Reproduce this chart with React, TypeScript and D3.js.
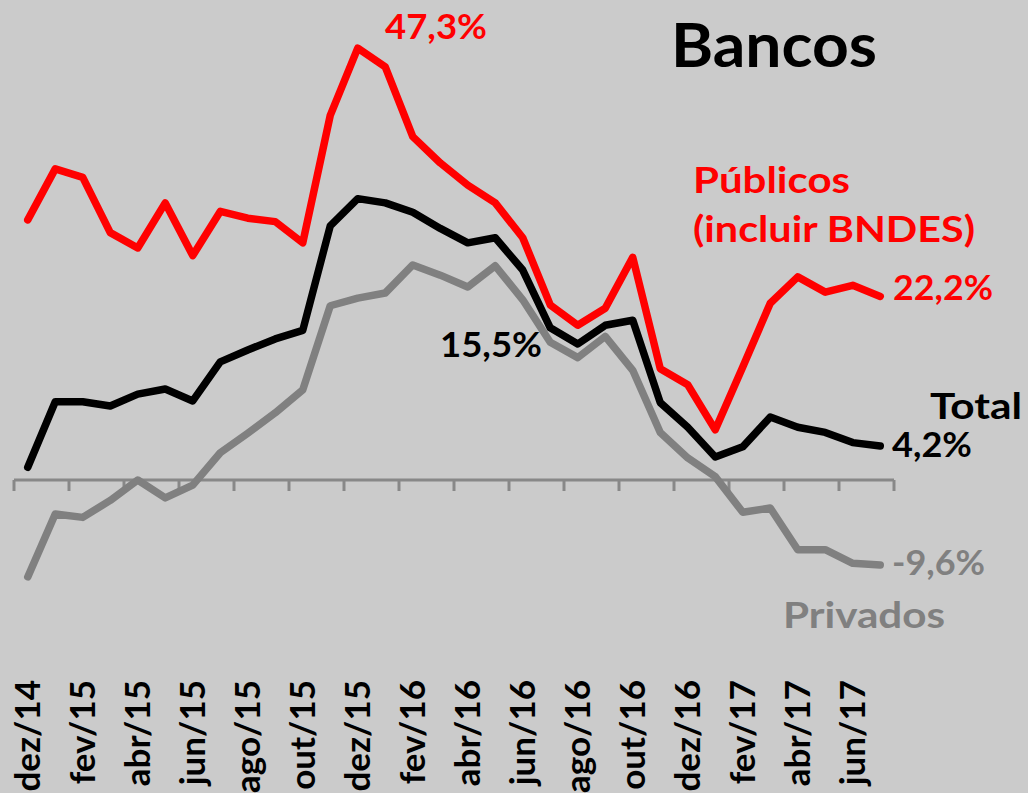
import React from "react";
import * as d3 from "d3";

// Months (dez/14 .. jul/17)
const months = [
  "dez/14", "jan/15", "fev/15", "mar/15", "abr/15", "mai/15", "jun/15", "jul/15",
  "ago/15", "set/15", "out/15", "nov/15", "dez/15", "jan/16", "fev/16", "mar/16",
  "abr/16", "mai/16", "jun/16", "jul/16", "ago/16", "set/16", "out/16", "nov/16",
  "dez/16", "jan/17", "fev/17", "mar/17", "abr/17", "mai/17", "jun/17", "jul/17",
];

// Tick labels shown (every other month)
const tickLabels = [
  "dez/14", "fev/15", "abr/15", "jun/15", "ago/15", "out/15", "dez/15", "fev/16",
  "abr/16", "jun/16", "ago/16", "out/16", "dez/16", "fev/17", "abr/17", "jun/17",
];

// Públicos (incl. BNDES)
const publicos = [
  30.6, 36.6, 35.6, 29.1, 27.3, 32.6, 26.4, 31.6, 30.8, 30.4, 27.9, 42.9,
  50.8, 48.6, 40.4, 37.3, 34.7, 32.6, 28.5, 20.6, 18.2, 20.2, 26.2, 13.1,
  11.2, 5.9, 13.3, 20.8, 23.9, 22.1, 22.9, 21.6,
];

// Total
const total = [
  1.5, 9.2, 9.2, 8.7, 10.1, 10.7, 9.3, 13.9, 15.3, 16.6, 17.6, 29.9,
  33.1, 32.6, 31.5, 29.6, 27.9, 28.5, 24.7, 17.9, 16.0, 18.2, 18.8, 9.1,
  6.2, 2.7, 3.9, 7.4, 6.2, 5.6, 4.4, 4.0,
];

// Privados
const privados = [
  -11.4, -4.0, -4.4, -2.4, 0.0, -2.1, -0.6, 3.2, 5.5, 7.9, 10.6, 20.5,
  21.4, 22.0, 25.3, 24.1, 22.7, 25.2, 21.2, 16.2, 14.4, 16.9, 12.9, 5.6,
  2.6, 0.4, -3.8, -3.3, -8.2, -8.2, -9.8, -10.0,
];

const W = 1028;
const H = 793;
const FONT = "Lato, 'Open Sans', sans-serif";
const RED = "#ff0000";
const GRAY = "#808080";

export default function App() {
  const x = d3.scaleLinear().domain([-0.5, months.length - 0.5]).range([14, 894]);
  const y = d3.scaleLinear().domain([0, 10]).range([480, 395]);

  const line = d3
    .line<number>()
    .x((_, i) => x(i))
    .y((d) => y(d));

  const tickIdx = d3.range(0, months.length + 1, 2);

  const series = [
    { data: privados, color: GRAY },
    { data: total, color: "#000" },
    { data: publicos, color: RED },
  ];

  const txt = (
    s: string,
    tx: number,
    ty: number,
    fill: string,
    size: number,
    len: number
  ) => (
    <text
      x={tx}
      y={ty}
      fill={fill}
      fontSize={size}
      fontWeight={700}
      fontFamily={FONT}
      textLength={len}
      lengthAdjust="spacingAndGlyphs"
    >
      {s}
    </text>
  );

  return (
    <svg
      width={W}
      height={H}
      style={{ position: "absolute", left: 0, top: 0 }}
    >
      <rect x={0} y={0} width={W} height={H} fill="#cbcbcb" />

      {/* axis */}
      <line x1={x(-0.5)} x2={x(months.length - 0.5)} y1={y(0)} y2={y(0)} stroke="#888" strokeWidth={3} />
      {tickIdx.map((k) => (
        <line
          key={k}
          x1={x(k - 0.5)}
          x2={x(k - 0.5)}
          y1={y(0)}
          y2={y(0) + 11}
          stroke="#888"
          strokeWidth={3}
        />
      ))}

      {series.map((s, i) => (
        <path
          key={i}
          d={line(s.data) || ""}
          fill="none"
          stroke={s.color}
          strokeWidth={7.5}
          strokeLinejoin="round"
          strokeLinecap="round"
        />
      ))}

      {/* x labels */}
      {tickLabels.map((lab) => {
        const i = months.indexOf(lab);
        return (
          <text
            key={lab}
            transform={`translate(${x(i)},680) rotate(-90)`}
            textAnchor="end"
            dy="0.36em"
            fontSize={35}
            fontWeight={700}
            fontFamily={FONT}
            fill="#000"
          >
            {lab}
          </text>
        );
      })}

      {txt("Bancos", 671, 67, "#000", 62, 206)}
      {txt("47,3%", 385, 39, RED, 35, 102)}
      {txt("Públicos", 693, 193, RED, 37, 157)}
      {txt("(incluir BNDES)", 693, 242, RED, 37, 282)}
      {txt("22,2%", 893, 300, RED, 35, 100)}
      {txt("Total", 930, 419, "#000", 37, 92)}
      {txt("4,2%", 892, 457, "#000", 35, 80)}
      {txt("15,5%", 440, 357, "#000", 35, 102)}
      {txt("-9,6%", 892, 575, GRAY, 35, 93)}
      {txt("Privados", 783, 628, GRAY, 37, 162)}
    </svg>
  );
}
